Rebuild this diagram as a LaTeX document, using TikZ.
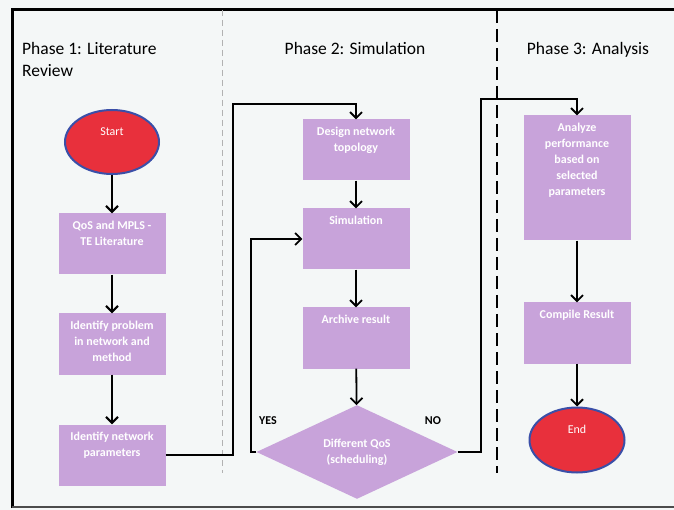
\documentclass[tikz,border=0pt]{standalone}
\usepackage{fontspec}
\setmainfont{Carlito}
\usetikzlibrary{shapes.geometric,arrows.meta}
\definecolor{paper}{HTML}{F4F7F7}
\definecolor{boxfill}{HTML}{C8A3DA}
\definecolor{termfill}{HTML}{E8303C}
\definecolor{termline}{HTML}{3A4FA8}
\tikzset{
  stepbox/.style={fill=boxfill, minimum width=107pt, minimum height=61pt, inner sep=0pt},
  steptext/.style={anchor=north, inner sep=0pt, yshift=-8pt, text=white, align=center,
    font=\fontsize{12}{16}\selectfont\bfseries},
  terminal/.style={ellipse, draw=termline, line width=2pt, fill=termfill, inner sep=0pt},
  termtext/.style={inner sep=0pt, text=white, font=\fontsize{12}{16}\selectfont},
  decision/.style={diamond, fill=boxfill, minimum width=201pt, minimum height=78pt, inner sep=0pt,
    text=white, align=center, font=\fontsize{12}{16}\selectfont\bfseries},
  phase/.style={anchor=base west, inner sep=0pt, font=\fontsize{17.5}{22}\selectfont},
  answer/.style={inner sep=0pt, font=\fontsize{12}{14}\selectfont\bfseries},
  flow/.style={-{Straight Barb[length=6pt,width=12pt]}, line width=2pt},
  loop/.style={-{Straight Barb[length=6pt,width=12pt]}, line width=1.8pt},
}
\begin{document}
\begin{tikzpicture}[x=1pt,y=-1pt]
  \useasboundingbox (0,0) rectangle (674,510);
  \fill[paper] (0,0) rectangle (674,510);
  % frame
  \draw[line width=3pt]
    (12,508)
    --
    (12,10)
    --
    (674,10);
  \draw[line width=1.2pt, black!70]
    (12,507)
    --
    (674,507);
  % phase dividers
  \draw[black!30, line width=0.8pt, dash pattern=on 6pt off 4pt]
    (222,10)
    --
    (222,473);
  \draw[line width=1.5pt, dash pattern=on 13pt off 6pt]
    (497,10)
    --
    (497,473);
  % phase titles
  \node[phase] (ph1) at (22,55) {Phase 1: Literature};
  \node[phase] (ph1b) at (22,77) {Review};
  \node[phase, anchor=base] (ph2) at (355,55) {Phase 2: Simulation};
  \node[phase, anchor=base] (ph3) at (588,55) {Phase 3: Analysis};
  % phase 1
  \node[terminal, minimum width=94pt, minimum height=64pt] (start) at (112,142) {};
  \node[termtext] (starttxt) at ([yshift=10pt]start.center) {Start};
  \node[stepbox] (lit) at (112,244) {};
  \node[steptext] (littxt) at (lit.north) {QoS and MPLS -\\TE Literature};
  \node[stepbox] (prob) at (112,344) {};
  \node[steptext] (probtxt) at (prob.north) {Identify problem\\in network and\\method};
  \node[stepbox] (param) at (112,455) {};
  \node[steptext] (paramtxt) at (param.north) {Identify network\\parameters};
  % phase 2
  \node[stepbox] (design) at (356,150) {};
  \node[steptext] (designtxt) at (design.north) {Design network\\topology};
  \node[stepbox] (sim) at (356,239) {};
  \node[steptext] (simtxt) at (sim.north) {Simulation};
  \node[stepbox] (arch) at (356,338) {};
  \node[steptext] (archtxt) at (arch.north) {Archive result};
  \node[decision] (diff) at (357,452) {Different QoS\\(scheduling)};
  \node[answer] (yes) at (268,421) {YES};
  \node[answer] (no) at (433,421) {NO};
  % phase 3
  \node[stepbox, minimum height=125pt] (anal) at (577,178) {};
  \node[steptext] (analtxt) at (anal.north) {Analyze\\performance\\based on\\selected\\parameters};
  \node[stepbox] (comp) at (577,333) {};
  \node[steptext] (comptxt) at (comp.north) {Compile Result};
  \node[terminal, minimum width=95pt, minimum height=65pt] (end) at (577,440) {};
  \node[termtext] (endtxt) at ([yshift=11pt]end.center) {End};
  % turning points
  \coordinate (toSim) at (233,104);
  \coordinate (yesTurn) at (251,452);
  \coordinate (toAnal) at (481,99);
  % connectors
  \draw[flow]
    (start)
    --
    (lit);
  \draw[flow]
    (lit)
    --
    (prob);
  \draw[flow]
    (prob)
    --
    (param);
  \draw[loop]
    (param.east)
    -|
    (toSim)
    -|
    (design.north);
  \draw[loop]
    (design)
    --
    (sim);
  \draw[loop]
    (sim)
    --
    (arch);
  \draw[loop]
    (arch)
    --
    (diff);
  \draw[loop]
    (diff.west)
    --
    (yesTurn)
    |-
    (sim.west);
  \draw[loop]
    (diff.east)
    -|
    (toAnal)
    -|
    (anal.north);
  \draw[loop]
    (anal)
    --
    (comp);
  \draw[loop]
    (comp)
    --
    (end);
\end{tikzpicture}
\end{document}
